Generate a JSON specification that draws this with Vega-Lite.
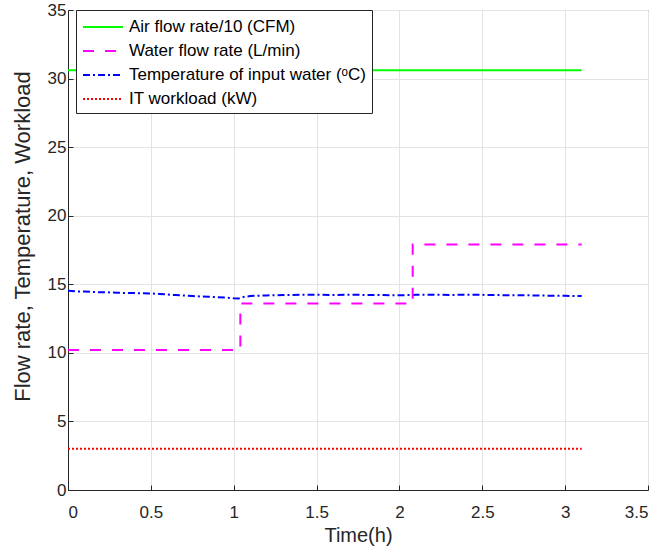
{
  "$schema": "https://vega.github.io/schema/vega-lite/v6.json",
  "width": 580,
  "height": 480,
  "autosize": "none",
  "padding": {"left": 68, "top": 10, "right": 16, "bottom": 66},
  "background": "white",
  "config": {
    "font": "Liberation Sans",
    "view": {"stroke": "#262626", "strokeWidth": 1},
    "axis": {
      "domainColor": "#262626",
      "tickColor": "#262626",
      "gridColor": "#e3e3e3",
      "labelColor": "#262626",
      "titleColor": "#262626",
      "labelFontSize": 17,
      "titleFontWeight": "normal",
      "tickSize": -5,
      "format": "~g"
    }
  },
  "data": {
    "values": [
      {"s": "Air flow rate/10 (CFM)", "t": 0, "v": 30.6},
      {"s": "Air flow rate/10 (CFM)", "t": 3.1, "v": 30.6},
      {"s": "Water flow rate (L/min)", "t": 0, "v": 10.2},
      {"s": "Water flow rate (L/min)", "t": 1.04, "v": 13.6},
      {"s": "Water flow rate (L/min)", "t": 2.08, "v": 17.9},
      {"s": "Water flow rate (L/min)", "t": 3.1, "v": 17.9},
      {"s": "Temperature of input water (ᵒC)", "t": 0, "v": 14.52},
      {"s": "Temperature of input water (ᵒC)", "t": 0.05, "v": 14.48},
      {"s": "Temperature of input water (ᵒC)", "t": 0.1, "v": 14.47},
      {"s": "Temperature of input water (ᵒC)", "t": 0.15, "v": 14.44},
      {"s": "Temperature of input water (ᵒC)", "t": 0.2, "v": 14.42},
      {"s": "Temperature of input water (ᵒC)", "t": 0.25, "v": 14.41},
      {"s": "Temperature of input water (ᵒC)", "t": 0.3, "v": 14.38},
      {"s": "Temperature of input water (ᵒC)", "t": 0.35, "v": 14.37},
      {"s": "Temperature of input water (ᵒC)", "t": 0.4, "v": 14.36},
      {"s": "Temperature of input water (ᵒC)", "t": 0.45, "v": 14.34},
      {"s": "Temperature of input water (ᵒC)", "t": 0.5, "v": 14.33},
      {"s": "Temperature of input water (ᵒC)", "t": 0.55, "v": 14.3},
      {"s": "Temperature of input water (ᵒC)", "t": 0.6, "v": 14.25},
      {"s": "Temperature of input water (ᵒC)", "t": 0.65, "v": 14.21},
      {"s": "Temperature of input water (ᵒC)", "t": 0.7, "v": 14.18},
      {"s": "Temperature of input water (ᵒC)", "t": 0.75, "v": 14.14},
      {"s": "Temperature of input water (ᵒC)", "t": 0.8, "v": 14.11},
      {"s": "Temperature of input water (ᵒC)", "t": 0.85, "v": 14.09},
      {"s": "Temperature of input water (ᵒC)", "t": 0.9, "v": 14.06},
      {"s": "Temperature of input water (ᵒC)", "t": 0.95, "v": 14.03},
      {"s": "Temperature of input water (ᵒC)", "t": 1.0, "v": 13.98},
      {"s": "Temperature of input water (ᵒC)", "t": 1.03, "v": 13.97},
      {"s": "Temperature of input water (ᵒC)", "t": 1.06, "v": 14.08},
      {"s": "Temperature of input water (ᵒC)", "t": 1.1, "v": 14.14},
      {"s": "Temperature of input water (ᵒC)", "t": 1.15, "v": 14.17},
      {"s": "Temperature of input water (ᵒC)", "t": 1.2, "v": 14.19},
      {"s": "Temperature of input water (ᵒC)", "t": 1.3, "v": 14.21},
      {"s": "Temperature of input water (ᵒC)", "t": 1.4, "v": 14.23},
      {"s": "Temperature of input water (ᵒC)", "t": 1.5, "v": 14.24},
      {"s": "Temperature of input water (ᵒC)", "t": 1.6, "v": 14.22},
      {"s": "Temperature of input water (ᵒC)", "t": 1.7, "v": 14.24},
      {"s": "Temperature of input water (ᵒC)", "t": 1.8, "v": 14.22},
      {"s": "Temperature of input water (ᵒC)", "t": 1.9, "v": 14.21},
      {"s": "Temperature of input water (ᵒC)", "t": 2.0, "v": 14.2},
      {"s": "Temperature of input water (ᵒC)", "t": 2.1, "v": 14.23},
      {"s": "Temperature of input water (ᵒC)", "t": 2.2, "v": 14.24},
      {"s": "Temperature of input water (ᵒC)", "t": 2.3, "v": 14.22},
      {"s": "Temperature of input water (ᵒC)", "t": 2.4, "v": 14.24},
      {"s": "Temperature of input water (ᵒC)", "t": 2.5, "v": 14.23},
      {"s": "Temperature of input water (ᵒC)", "t": 2.6, "v": 14.21},
      {"s": "Temperature of input water (ᵒC)", "t": 2.7, "v": 14.2},
      {"s": "Temperature of input water (ᵒC)", "t": 2.8, "v": 14.19},
      {"s": "Temperature of input water (ᵒC)", "t": 2.9, "v": 14.17},
      {"s": "Temperature of input water (ᵒC)", "t": 3.0, "v": 14.16},
      {"s": "Temperature of input water (ᵒC)", "t": 3.1, "v": 14.14},
      {"s": "IT workload (kW)", "t": 0, "v": 3.0},
      {"s": "IT workload (kW)", "t": 3.1, "v": 3.0}
    ]
  },
  "encoding": {
    "x": {
      "field": "t", "type": "quantitative",
      "scale": {"domain": [0, 3.5], "nice": false},
      "axis": {"values": [0, 0.5, 1, 1.5, 2, 2.5, 3, 3.5], "title": "Time(h)", "titleFontSize": 20, "labelPadding": 19, "titlePadding": 5}
    },
    "y": {
      "field": "v", "type": "quantitative",
      "scale": {"domain": [0, 35], "nice": false},
      "axis": {"values": [0, 5, 10, 15, 20, 25, 30, 35], "title": "Flow rate, Temperature, Workload", "titleFontSize": 22, "labelPadding": 7, "titlePadding": 13, "titleY": 226}
    },
    "color": {
      "field": "s", "type": "nominal",
      "scale": {
        "domain": ["Air flow rate/10 (CFM)", "Water flow rate (L/min)", "Temperature of input water (ᵒC)", "IT workload (kW)"],
        "range": ["#00ff00", "#ff00ff", "#0000ff", "#ff0000"]
      },
      "legend": {
        "title": null,
        "orient": "none",
        "legendX": 8,
        "legendY": 0,
        "symbolType": "M-2,0H2",
        "symbolSize": 400,
        "symbolStrokeWidth": 2,
        "symbolOffset": 10,
        "labelFontSize": 17,
        "labelLimit": 0,
        "labelColor": "#000000",
        "fillColor": "white",
        "strokeColor": "#262626",
        "padding": 6,
        "rowPadding": 5,
        "labelOffset": 15
      }
    },
    "strokeDash": {
      "field": "s", "type": "nominal",
      "scale": {
        "domain": ["Air flow rate/10 (CFM)", "Water flow rate (L/min)", "Temperature of input water (ᵒC)", "IT workload (kW)"],
        "range": [[1, 0], [11, 11], [7, 3, 2, 3], [2, 2]]
      },
      "legend": null
    }
  },
  "layer": [
    {
      "transform": [{"filter": "datum.s !== 'Water flow rate (L/min)'"}],
      "mark": {"type": "line", "strokeWidth": 2}
    },
    {
      "transform": [{"filter": "datum.s === 'Water flow rate (L/min)'"}],
      "mark": {"type": "line", "strokeWidth": 2, "interpolate": "step-after"}
    }
  ]
}
